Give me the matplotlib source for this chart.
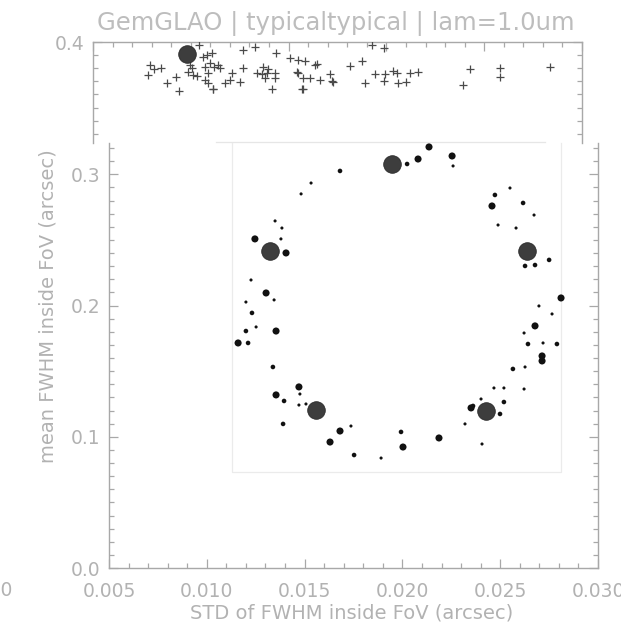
import matplotlib
matplotlib.use("Agg")
import matplotlib.pyplot as plt
from matplotlib.ticker import MultipleLocator, FormatStrFormatter

# ---------------- data ----------------
title = "GemGLAO | typicaltypical | lam=1.0um"
xlabel = "STD of FWHM inside FoV (arcsec)"
ylabel = "mean FWHM inside FoV (arcsec)"

# crosses (upper strip of the plot)
cross_x = [0.00791, 0.00812, 0.00848, 0.00781, 0.00878, 0.00924, 0.00940, 0.00996,
           0.00986, 0.01006, 0.01011, 0.01032, 0.01042, 0.01062, 0.01083, 0.01108,
           0.01073, 0.01098, 0.01088, 0.01119, 0.01139, 0.01149, 0.01073, 0.01088,
           0.01114, 0.01116, 0.01175, 0.01200, 0.01211, 0.01267, 0.01267, 0.01328,
           0.01252, 0.01338, 0.01436, 0.01507, 0.01548, 0.01584, 0.01635, 0.01645,
           0.01369, 0.01395, 0.01364, 0.01390, 0.01430, 0.01430, 0.01379, 0.01415,
           0.01543, 0.01548, 0.01574, 0.01609, 0.01661, 0.01712, 0.01722, 0.01727,
           0.01569, 0.01572, 0.01814, 0.01875, 0.01891, 0.01926, 0.01988, 0.01942,
           0.01993, 0.02034, 0.02054, 0.01988, 0.02059, 0.02100, 0.02121, 0.02162,
           0.02392, 0.02427, 0.02581, 0.02581, 0.02836]
cross_y = [0.3825, 0.3794, 0.3802, 0.3748, 0.3687, 0.3733, 0.3627, 0.3825,
           0.3771, 0.3802, 0.3748, 0.3741, 0.3977, 0.3886, 0.3901, 0.3916,
           0.3809, 0.3840, 0.3764, 0.3809, 0.3825, 0.3802, 0.3710, 0.3687,
           0.3642, 0.3640, 0.3687, 0.3710, 0.3764, 0.3802, 0.3939, 0.3962,
           0.3695, 0.3764, 0.3916, 0.3878, 0.3863, 0.3855, 0.3825, 0.3832,
           0.3809, 0.3794, 0.3756, 0.3764, 0.3764, 0.3726, 0.3726, 0.3642,
           0.3771, 0.3764, 0.3726, 0.3726, 0.3710, 0.3756, 0.3703, 0.3695,
           0.3642, 0.3644, 0.3817, 0.3855, 0.3687, 0.3977, 0.3954, 0.3756,
           0.3756, 0.3779, 0.3764, 0.3703, 0.3687, 0.3695, 0.3764, 0.3771,
           0.3672, 0.3794, 0.3802, 0.3733, 0.3809]

# big reference circles
big_top_x = [0.00981]
big_top_y = [0.3909]
big_x = [0.01947, 0.01323, 0.02637, 0.01558, 0.02427]
big_y = [0.3079, 0.2416, 0.2416, 0.1204, 0.1197]

# dots (class: 1 tiny, 2 small, 3 medium)
dot_x = [0.01482, 0.01349, 0.01384, 0.01246, 0.01379, 0.01405, 0.01226, 0.01303,
         0.01344, 0.01200, 0.01231, 0.01252, 0.01200, 0.01354, 0.01160, 0.01211,
         0.01338, 0.01471, 0.01476, 0.01354, 0.01395, 0.01471, 0.01507, 0.01390,
         0.01681, 0.01737, 0.01630, 0.01753, 0.01891, 0.01993, 0.02003, 0.02187,
         0.02320, 0.02351, 0.02361, 0.02402, 0.02468, 0.02519, 0.02622, 0.02519,
         0.02499, 0.02407, 0.02136, 0.02254, 0.02259, 0.02080, 0.02024, 0.01681,
         0.01533, 0.02473, 0.02550, 0.02458, 0.02617, 0.02673, 0.02489, 0.02581,
         0.02750, 0.02627, 0.02678, 0.02811, 0.02698, 0.02765, 0.02678, 0.02622,
         0.02642, 0.02719, 0.02790, 0.02714, 0.02714, 0.02565, 0.02627]
dot_y = [0.2851, 0.2645, 0.2591, 0.2508, 0.2508, 0.2401, 0.2195, 0.2096,
         0.2043, 0.2027, 0.1944, 0.1837, 0.1806, 0.1806, 0.1715, 0.1715,
         0.1532, 0.1380, 0.1326, 0.1319, 0.1273, 0.1242, 0.1250, 0.1098,
         0.1044, 0.1082, 0.0960, 0.0861, 0.0838, 0.1037, 0.0922, 0.0991,
         0.1098, 0.1220, 0.1235, 0.1288, 0.1372, 0.1372, 0.1364, 0.1265,
         0.1174, 0.0945, 0.3209, 0.3140, 0.3064, 0.3117, 0.3079, 0.3026,
         0.2934, 0.2843, 0.2896, 0.2759, 0.2782, 0.2690, 0.2614, 0.2591,
         0.2348, 0.2302, 0.2309, 0.2058, 0.1997, 0.1936, 0.1845, 0.1791,
         0.1707, 0.1715, 0.1707, 0.1616, 0.1578, 0.1517, 0.1532]
dot_cls = [1, 1, 1, 3, 1, 3, 1, 3,
           1, 1, 2, 1, 2, 3, 3, 2,
           2, 3, 1, 3, 2, 1, 1, 2,
           3, 1, 3, 2, 1, 2, 3, 3,
           1, 3, 2, 1, 1, 1, 1, 2,
           2, 1, 3, 3, 1, 3, 2, 2,
           1, 2, 1, 3, 2, 1, 1, 1,
           2, 2, 2, 3, 1, 1, 3, 1,
           2, 1, 2, 3, 3, 2, 1]

# inset frame (data coordinates)
inset_x = [0.0113, 0.0281]
inset_y = [0.0732, 0.3236]

x_range = [0.005, 0.030]
y_top_range = [0.3230, 0.4]
y_bot_range = [0.0, 0.3239]

# ---------------- style ----------------
W, H = 621, 626
TXT = "#b2b2b2"
AXC = "#a8a8a8"
FONT = ["DejaVu Sans"]
plt.rcParams["font.family"] = FONT

fig = plt.figure(figsize=(W / 100, H / 100), dpi=100)


def frac(l, r, t, b):
    return [l / W, 1 - b / H, (r - l) / W, (b - t) / H]


ax_top = fig.add_axes(frac(93, 582, 42, 143))
ax_bot = fig.add_axes(frac(109, 598, 143, 568))

for ax in (ax_top, ax_bot):
    ax.set_xlim(*x_range)
    ax.xaxis.set_major_locator(MultipleLocator(0.005))
    ax.xaxis.set_minor_locator(MultipleLocator(0.001))
    ax.yaxis.set_major_locator(MultipleLocator(0.1))
    ax.yaxis.set_minor_locator(MultipleLocator(0.01))
    ax.xaxis.set_major_formatter(FormatStrFormatter("%.3f"))
    ax.yaxis.set_major_formatter(FormatStrFormatter("%.1f"))
    for s in ax.spines.values():
        s.set_color(AXC)
        s.set_linewidth(1.0)
    ax.tick_params(which="both", direction="in", color=AXC, width=0.9,
                   labelcolor=TXT, labelsize=13.5)
    ax.tick_params(which="major", length=6.5)
    ax.tick_params(which="minor", length=3.5)
    ax.set_facecolor("none")

ax_top.set_ylim(*y_top_range)
ax_bot.set_ylim(*y_bot_range)

ax_top.spines["bottom"].set_visible(False)
ax_top.tick_params(which="both", top=True, bottom=False, left=True, right=True,
                   labelbottom=False, labeltop=False, labelleft=True, labelright=False)
ax_top.tick_params(axis="y", pad=6)

ax_bot.spines["top"].set_visible(False)
ax_bot.tick_params(which="both", top=False, bottom=True, left=True, right=True,
                   labelbottom=True, labelleft=True, labelright=False)
ax_bot.tick_params(axis="x", pad=10)
ax_bot.tick_params(axis="y", pad=6)

# inset frame (very faint)
ax_bot.plot([inset_x[0], inset_x[0], inset_x[1], inset_x[1]],
            [inset_y[1], inset_y[0], inset_y[0], inset_y[1]],
            color="#ebebeb", lw=0.9, clip_on=False, zorder=1)
ax_top.plot(inset_x, [inset_y[1], inset_y[1]], color="#e6e6e6", lw=0.9,
            clip_on=False, zorder=1)

# crosses
ax_top.plot(cross_x, cross_y, linestyle="none", marker="+", markersize=6,
            markeredgewidth=0.9, color="#4a4a4a", zorder=3)
ax_top.scatter(big_top_x, big_top_y, s=160, color="#3d3d3d", edgecolors="#2a2a2a",
               linewidths=0.6, zorder=4, clip_on=False)

# dots
size_map = {1: 5, 2: 11, 3: 26}
ax_bot.scatter(dot_x, dot_y, s=[size_map[c] for c in dot_cls], color="#111111",
               linewidths=0, zorder=3, clip_on=False)
ax_bot.scatter(big_x, big_y, s=160, color="#3d3d3d", edgecolors="#2a2a2a",
               linewidths=0.6, zorder=4)

# texts
fig.text(336 / W, 1 - 23 / H, title, ha="center", va="center", color="#bdbdbd",
         fontsize=17.5)
fig.text(352 / W, 1 - 613 / H, xlabel, ha="center", va="center", color=TXT,
         fontsize=14)
fig.text(48 / W, 1 - 306 / H, ylabel, ha="center", va="center", rotation=90,
         color=TXT, fontsize=14)
fig.text(13 / W, 1 - 590 / H, "0.000", ha="right", va="center", color=TXT,
         fontsize=13.5)

fig.savefig("out.png", dpi=100, facecolor="white")
